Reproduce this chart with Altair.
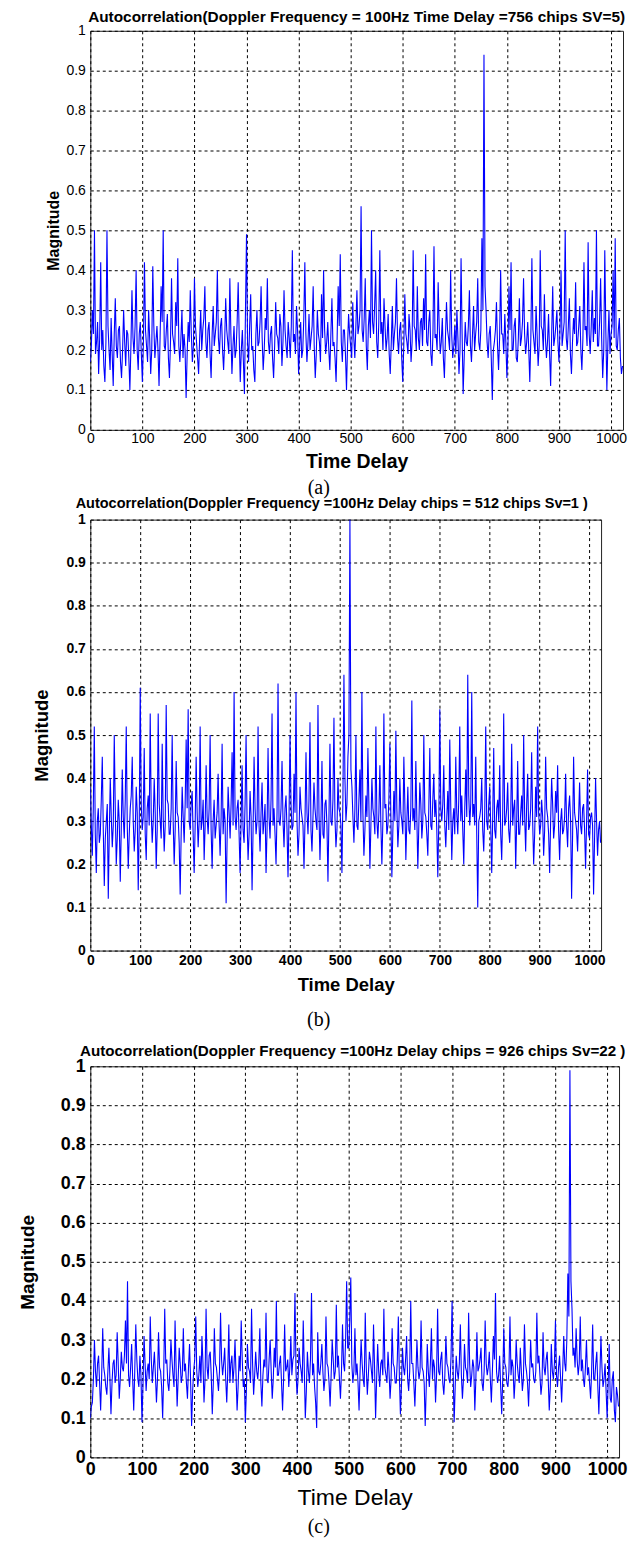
import altair as alt
import pandas as pd

TITLE_A = "Autocorrelation(Doppler Frequency = 100Hz Time Delay =756 chips SV=5)"
TITLE_B = "Autocorrelation(Doppler Frequency =100Hz Delay chips = 512 chips Sv=1 )"
TITLE_C = "Autocorrelation(Doppler Frequency =100Hz Delay chips = 926 chips Sv=22 )"
CAPTIONS = ["(a)", "(b)", "(c)"]
X_TITLE = "Time Delay"
Y_TITLE = "Magnitude"
X_TICKS = [0, 100, 200, 300, 400, 500, 600, 700, 800, 900, 1000]
Y_TICKS = [0, 0.1, 0.2, 0.3, 0.4, 0.5, 0.6, 0.7, 0.8, 0.9, 1]
STEP = 2  # chips between read-off samples

# Panel (a): SV=5, peak at 756 chips
mag_a = [
    0.17, 0.21, 0.30, 0.24, 0.50, 0.19, 0.22, 0.27, 0.14, 0.23, 0.42, 0.20, 0.25, 0.16, 0.12, 0.22,
    0.50, 0.26, 0.20, 0.15, 0.28, 0.19, 0.11, 0.24, 0.33, 0.21, 0.18, 0.25, 0.26, 0.17, 0.13, 0.20,
    0.30, 0.22, 0.16, 0.25, 0.24, 0.18, 0.10, 0.21, 0.35, 0.23, 0.19, 0.26, 0.40, 0.20, 0.15, 0.24,
    0.27, 0.19, 0.12, 0.22, 0.42, 0.25, 0.21, 0.17, 0.30, 0.23, 0.14, 0.20, 0.41, 0.26, 0.18, 0.22,
    0.26, 0.20, 0.11, 0.23, 0.36, 0.27, 0.50, 0.21, 0.20, 0.25, 0.29, 0.18, 0.13, 0.22, 0.38, 0.24,
    0.22, 0.19, 0.32, 0.26, 0.43, 0.21, 0.17, 0.23, 0.30, 0.18, 0.24, 0.20, 0.08, 0.19, 0.27, 0.22,
    0.35, 0.24, 0.17, 0.21, 0.38, 0.26, 0.22, 0.18, 0.14, 0.23, 0.30, 0.20, 0.25, 0.28, 0.36, 0.22,
    0.18, 0.25, 0.27, 0.19, 0.13, 0.24, 0.31, 0.21, 0.24, 0.27, 0.40, 0.23, 0.19, 0.26, 0.28, 0.20,
    0.15, 0.22, 0.33, 0.25, 0.22, 0.19, 0.38, 0.24, 0.14, 0.21, 0.26, 0.18, 0.20, 0.27, 0.37, 0.23,
    0.12, 0.20, 0.25, 0.17, 0.09, 0.30, 0.49, 0.22, 0.17, 0.26, 0.34, 0.20, 0.21, 0.15, 0.12, 0.24,
    0.30, 0.21, 0.22, 0.27, 0.36, 0.23, 0.15, 0.20, 0.28, 0.25, 0.38, 0.22, 0.19, 0.24, 0.26, 0.18,
    0.13, 0.21, 0.32, 0.24, 0.23, 0.19, 0.29, 0.26, 0.16, 0.22, 0.35, 0.25, 0.21, 0.18, 0.27, 0.23,
    0.18, 0.26, 0.45, 0.22, 0.24, 0.19, 0.31, 0.25, 0.14, 0.21, 0.27, 0.18, 0.20, 0.28, 0.42, 0.24,
    0.17, 0.22, 0.29, 0.20, 0.23, 0.26, 0.36, 0.21, 0.13, 0.19, 0.30, 0.24, 0.22, 0.17, 0.34, 0.23,
    0.40, 0.25, 0.19, 0.22, 0.27, 0.20, 0.15, 0.24, 0.33, 0.21, 0.22, 0.18, 0.12, 0.23, 0.36, 0.26,
    0.44, 0.22, 0.17, 0.25, 0.25, 0.19, 0.10, 0.21, 0.29, 0.24, 0.21, 0.18, 0.32, 0.23, 0.18, 0.26,
    0.35, 0.24, 0.26, 0.30, 0.56, 0.25, 0.22, 0.28, 0.38, 0.21, 0.15, 0.26, 0.30, 0.23, 0.50, 0.27,
    0.24, 0.31, 0.40, 0.22, 0.18, 0.27, 0.45, 0.24, 0.27, 0.20, 0.33, 0.26, 0.20, 0.23, 0.29, 0.19,
    0.14, 0.22, 0.31, 0.20, 0.24, 0.27, 0.38, 0.23, 0.19, 0.25, 0.27, 0.18, 0.12, 0.21, 0.34, 0.24,
    0.22, 0.19, 0.29, 0.25, 0.17, 0.22, 0.45, 0.26, 0.25, 0.20, 0.36, 0.23, 0.20, 0.27, 0.28, 0.21,
    0.33, 0.25, 0.44, 0.22, 0.21, 0.27, 0.30, 0.19, 0.16, 0.24, 0.46, 0.23, 0.24, 0.20, 0.37, 0.26,
    0.19, 0.22, 0.28, 0.18, 0.13, 0.23, 0.32, 0.25, 0.23, 0.20, 0.40, 0.24, 0.18, 0.21, 0.26, 0.19,
    0.30, 0.23, 0.14, 0.20, 0.43, 0.24, 0.09, 0.18, 0.27, 0.22, 0.21, 0.26, 0.35, 0.21, 0.17, 0.24,
    0.31, 0.20, 0.24, 0.27, 0.38, 0.22, 0.20, 0.25, 0.48, 0.30, 0.94, 0.36, 0.30, 0.22, 0.18, 0.24,
    0.26, 0.18, 0.075, 0.20, 0.22, 0.25, 0.32, 0.21, 0.15, 0.23, 0.40, 0.24, 0.24, 0.19, 0.29, 0.22,
    0.13, 0.21, 0.36, 0.25, 0.42, 0.20, 0.20, 0.26, 0.28, 0.18, 0.17, 0.23, 0.33, 0.21, 0.23, 0.27,
    0.38, 0.24, 0.19, 0.22, 0.27, 0.20, 0.12, 0.23, 0.43, 0.25, 0.22, 0.19, 0.31, 0.24, 0.16, 0.21,
    0.45, 0.26, 0.25, 0.20, 0.34, 0.23, 0.18, 0.22, 0.29, 0.19, 0.11, 0.24, 0.36, 0.21, 0.23, 0.26,
    0.30, 0.22, 0.17, 0.25, 0.40, 0.21, 0.24, 0.27, 0.50, 0.23, 0.20, 0.26, 0.33, 0.19, 0.14, 0.22,
    0.28, 0.24, 0.37, 0.21, 0.22, 0.26, 0.31, 0.20, 0.15, 0.23, 0.42, 0.25, 0.26, 0.21, 0.47, 0.24,
    0.19, 0.26, 0.35, 0.22, 0.28, 0.24, 0.50, 0.21, 0.21, 0.27, 0.38, 0.23, 0.13, 0.20, 0.45, 0.25,
    0.10, 0.22, 0.30, 0.19, 0.24, 0.26, 0.40, 0.23, 0.48, 0.21, 0.20, 0.25, 0.28, 0.18, 0.14, 0.16,
]

# Panel (b): Sv=1, peak near 512 chips
mag_b = [
    0.38, 0.29, 0.22, 0.33, 0.52, 0.27, 0.18, 0.30, 0.33, 0.25, 0.27, 0.35, 0.45, 0.28, 0.15, 0.26,
    0.30, 0.34, 0.12, 0.27, 0.40, 0.31, 0.24, 0.29, 0.50, 0.33, 0.20, 0.26, 0.35, 0.30, 0.16, 0.28,
    0.42, 0.31, 0.26, 0.35, 0.52, 0.29, 0.19, 0.27, 0.33, 0.36, 0.45, 0.30, 0.23, 0.28, 0.38, 0.32,
    0.14, 0.29, 0.61, 0.34, 0.28, 0.31, 0.47, 0.27, 0.21, 0.33, 0.36, 0.29, 0.55, 0.32, 0.25, 0.30,
    0.40, 0.32, 0.19, 0.28, 0.55, 0.34, 0.30, 0.26, 0.48, 0.31, 0.23, 0.29, 0.57, 0.35, 0.34, 0.27,
    0.27, 0.33, 0.50, 0.30, 0.20, 0.28, 0.44, 0.32, 0.31, 0.25, 0.13, 0.27, 0.38, 0.31, 0.25, 0.34,
    0.49, 0.33, 0.56, 0.30, 0.28, 0.34, 0.37, 0.27, 0.18, 0.29, 0.45, 0.32, 0.24, 0.30, 0.52, 0.28,
    0.30, 0.35, 0.21, 0.29, 0.43, 0.31, 0.27, 0.33, 0.50, 0.28, 0.19, 0.30, 0.35, 0.26, 0.29, 0.32,
    0.41, 0.29, 0.22, 0.31, 0.48, 0.27, 0.33, 0.30, 0.11, 0.26, 0.38, 0.32, 0.26, 0.34, 0.46, 0.29,
    0.60, 0.31, 0.28, 0.33, 0.35, 0.27, 0.18, 0.30, 0.43, 0.28, 0.25, 0.34, 0.50, 0.30, 0.21, 0.27,
    0.37, 0.31, 0.14, 0.28, 0.45, 0.33, 0.27, 0.30, 0.52, 0.29, 0.23, 0.32, 0.39, 0.27, 0.30, 0.34,
    0.18, 0.28, 0.47, 0.31, 0.26, 0.35, 0.55, 0.29, 0.33, 0.27, 0.20, 0.32, 0.62, 0.30, 0.29, 0.33,
    0.44, 0.30, 0.24, 0.33, 0.36, 0.28, 0.17, 0.31, 0.50, 0.34, 0.28, 0.29, 0.41, 0.32, 0.60, 0.30,
    0.22, 0.27, 0.38, 0.33, 0.31, 0.29, 0.19, 0.30, 0.46, 0.32, 0.27, 0.35, 0.53, 0.28, 0.23, 0.31,
    0.39, 0.33, 0.30, 0.28, 0.57, 0.32, 0.21, 0.30, 0.44, 0.27, 0.26, 0.34, 0.35, 0.29, 0.16, 0.31,
    0.48, 0.30, 0.29, 0.35, 0.54, 0.31, 0.24, 0.28, 0.40, 0.33, 0.32, 0.29, 0.18, 0.36, 0.64, 0.40,
    0.30, 0.34, 0.45, 0.50, 1.00, 0.42, 0.38, 0.31, 0.25, 0.33, 0.50, 0.29, 0.28, 0.35, 0.42, 0.30,
    0.60, 0.32, 0.22, 0.28, 0.36, 0.31, 0.47, 0.34, 0.19, 0.29, 0.40, 0.33, 0.31, 0.27, 0.52, 0.30,
    0.26, 0.32, 0.43, 0.29, 0.20, 0.30, 0.55, 0.33, 0.34, 0.27, 0.29, 0.35, 0.48, 0.31, 0.17, 0.28,
    0.37, 0.30, 0.51, 0.33, 0.24, 0.29, 0.40, 0.32, 0.30, 0.27, 0.45, 0.34, 0.21, 0.30, 0.38, 0.28,
    0.27, 0.33, 0.58, 0.30, 0.33, 0.28, 0.44, 0.31, 0.19, 0.29, 0.39, 0.34, 0.26, 0.30, 0.50, 0.32,
    0.31, 0.27, 0.22, 0.33, 0.47, 0.29, 0.28, 0.35, 0.41, 0.31, 0.35, 0.28, 0.17, 0.30, 0.56, 0.33,
    0.30, 0.34, 0.43, 0.29, 0.24, 0.31, 0.37, 0.28, 0.49, 0.33, 0.21, 0.30, 0.33, 0.27, 0.45, 0.32,
    0.27, 0.35, 0.52, 0.30, 0.36, 0.28, 0.20, 0.33, 0.42, 0.31, 0.64, 0.36, 0.29, 0.34, 0.60, 0.31,
    0.34, 0.29, 0.45, 0.27, 0.10, 0.30, 0.31, 0.33, 0.40, 0.28, 0.23, 0.32, 0.52, 0.30, 0.28, 0.34,
    0.38, 0.29, 0.18, 0.31, 0.47, 0.28, 0.26, 0.33, 0.35, 0.30, 0.43, 0.27, 0.21, 0.32, 0.55, 0.29,
    0.30, 0.33, 0.39, 0.28, 0.25, 0.31, 0.48, 0.29, 0.33, 0.35, 0.19, 0.30, 0.44, 0.27, 0.27, 0.32,
    0.36, 0.29, 0.50, 0.31, 0.23, 0.34, 0.41, 0.28, 0.29, 0.33, 0.46, 0.30, 0.20, 0.27, 0.38, 0.31,
    0.52, 0.32, 0.27, 0.29, 0.35, 0.31, 0.22, 0.28, 0.45, 0.33, 0.31, 0.27, 0.18, 0.30, 0.40, 0.34,
    0.26, 0.29, 0.37, 0.32, 0.43, 0.28, 0.21, 0.30, 0.33, 0.27, 0.28, 0.31, 0.41, 0.29, 0.24, 0.33,
    0.36, 0.30, 0.12, 0.27, 0.45, 0.32, 0.30, 0.28, 0.23, 0.31, 0.39, 0.29, 0.27, 0.33, 0.34, 0.28,
    0.19, 0.30, 0.42, 0.27, 0.26, 0.31, 0.32, 0.29, 0.13, 0.26, 0.40, 0.30, 0.22, 0.28, 0.30, 0.25,
]

# Panel (c): Sv=22, peak near 926 chips
mag_c = [
    0.10, 0.13, 0.14, 0.20, 0.30, 0.22, 0.18, 0.24, 0.26, 0.19, 0.12, 0.21, 0.33, 0.23, 0.21, 0.18,
    0.16, 0.22, 0.28, 0.20, 0.11, 0.19, 0.24, 0.25, 0.19, 0.21, 0.32, 0.24, 0.15, 0.20, 0.27, 0.23,
    0.22, 0.26, 0.35, 0.24, 0.45, 0.21, 0.18, 0.23, 0.29, 0.20, 0.12, 0.22, 0.34, 0.25, 0.20, 0.18,
    0.26, 0.21, 0.09, 0.19, 0.31, 0.24, 0.17, 0.22, 0.24, 0.20, 0.36, 0.25, 0.19, 0.23, 0.27, 0.21,
    0.14, 0.20, 0.32, 0.23, 0.22, 0.18, 0.10, 0.21, 0.38, 0.24, 0.25, 0.19, 0.17, 0.22, 0.30, 0.25,
    0.21, 0.18, 0.35, 0.23, 0.13, 0.20, 0.28, 0.24, 0.19, 0.21, 0.33, 0.22, 0.24, 0.19, 0.15, 0.23,
    0.29, 0.20, 0.08, 0.17, 0.22, 0.25, 0.36, 0.22, 0.18, 0.21, 0.26, 0.19, 0.31, 0.24, 0.14, 0.20,
    0.38, 0.23, 0.20, 0.26, 0.27, 0.21, 0.11, 0.19, 0.33, 0.24, 0.23, 0.20, 0.17, 0.22, 0.37, 0.25,
    0.21, 0.24, 0.28, 0.20, 0.14, 0.22, 0.34, 0.19, 0.24, 0.26, 0.19, 0.23, 0.30, 0.21, 0.12, 0.18,
    0.26, 0.22, 0.35, 0.25, 0.18, 0.20, 0.09, 0.17, 0.29, 0.23, 0.22, 0.19, 0.38, 0.24, 0.16, 0.21,
    0.27, 0.22, 0.20, 0.24, 0.33, 0.19, 0.13, 0.21, 0.25, 0.23, 0.37, 0.20, 0.19, 0.25, 0.30, 0.22,
    0.15, 0.20, 0.28, 0.23, 0.40, 0.21, 0.21, 0.24, 0.26, 0.19, 0.12, 0.20, 0.34, 0.22, 0.23, 0.25,
    0.18, 0.23, 0.31, 0.21, 0.25, 0.26, 0.42, 0.22, 0.16, 0.20, 0.28, 0.24, 0.22, 0.19, 0.35, 0.23,
    0.10, 0.17, 0.27, 0.22, 0.19, 0.25, 0.42, 0.21, 0.24, 0.18, 0.14, 0.075, 0.32, 0.22, 0.21, 0.24,
    0.29, 0.22, 0.17, 0.20, 0.36, 0.24, 0.23, 0.19, 0.13, 0.21, 0.30, 0.25, 0.20, 0.22, 0.39, 0.23,
    0.26, 0.20, 0.15, 0.22, 0.34, 0.24, 0.22, 0.30, 0.45, 0.28, 0.28, 0.35, 0.46, 0.24, 0.19, 0.22,
    0.33, 0.21, 0.24, 0.19, 0.12, 0.22, 0.30, 0.24, 0.20, 0.18, 0.37, 0.23, 0.16, 0.21, 0.27, 0.25,
    0.22, 0.19, 0.34, 0.23, 0.10, 0.20, 0.29, 0.22, 0.18, 0.24, 0.25, 0.21, 0.38, 0.23, 0.21, 0.19,
    0.27, 0.22, 0.15, 0.20, 0.33, 0.24, 0.23, 0.19, 0.19, 0.25, 0.36, 0.21, 0.11, 0.18, 0.28, 0.23,
    0.21, 0.25, 0.31, 0.20, 0.17, 0.22, 0.40, 0.24, 0.24, 0.19, 0.13, 0.21, 0.30, 0.23, 0.20, 0.22,
    0.35, 0.23, 0.22, 0.19, 0.08, 0.18, 0.29, 0.22, 0.18, 0.24, 0.33, 0.20, 0.25, 0.23, 0.14, 0.21,
    0.38, 0.22, 0.21, 0.25, 0.27, 0.19, 0.16, 0.21, 0.31, 0.24, 0.23, 0.20, 0.19, 0.26, 0.40, 0.22,
    0.09, 0.18, 0.26, 0.22, 0.20, 0.24, 0.34, 0.21, 0.15, 0.20, 0.29, 0.23, 0.22, 0.19, 0.37, 0.24,
    0.18, 0.21, 0.25, 0.23, 0.12, 0.20, 0.32, 0.22, 0.23, 0.25, 0.28, 0.19, 0.17, 0.22, 0.35, 0.24,
    0.21, 0.23, 0.27, 0.20, 0.14, 0.22, 0.31, 0.25, 0.42, 0.22, 0.19, 0.21, 0.26, 0.18, 0.11, 0.20,
    0.33, 0.24, 0.23, 0.19, 0.18, 0.22, 0.36, 0.21, 0.25, 0.23, 0.15, 0.20, 0.30, 0.24, 0.21, 0.19,
    0.28, 0.22, 0.17, 0.20, 0.34, 0.24, 0.22, 0.19, 0.13, 0.21, 0.30, 0.23, 0.24, 0.20, 0.19, 0.22,
    0.37, 0.24, 0.26, 0.21, 0.16, 0.19, 0.32, 0.23, 0.21, 0.25, 0.27, 0.20, 0.12, 0.18, 0.29, 0.22,
    0.20, 0.24, 0.35, 0.21, 0.18, 0.23, 0.26, 0.20, 0.14, 0.22, 0.31, 0.24, 0.22, 0.30, 0.47, 0.36,
    0.99, 0.45, 0.38, 0.26, 0.28, 0.23, 0.33, 0.25, 0.21, 0.24, 0.36, 0.22, 0.25, 0.20, 0.18, 0.23,
    0.30, 0.21, 0.23, 0.19, 0.15, 0.22, 0.34, 0.20, 0.20, 0.24, 0.27, 0.18, 0.11, 0.21, 0.31, 0.23,
    0.18, 0.20, 0.24, 0.17, 0.10, 0.19, 0.29, 0.15, 0.14, 0.20, 0.22, 0.12, 0.09, 0.18, 0.16, 0.13,
]

SANS = "'Liberation Sans', Arial, sans-serif"
SERIF = "'Liberation Serif', 'Times New Roman', serif"
PLOT_LEFT = 89  # page x of plot areas (shared by the stacked panels)


def panel(mag, title, caption, w, h, st):
    df = pd.DataFrame({"delay": [STEP * i for i in range(len(mag))], "mag": mag})
    grid = dict(grid=True, gridColor="#000000", gridDash=[3, 3], gridOpacity=1, gridWidth=1,
                ticks=False, domain=False, labelColor="#000", titleColor="#000",
                labelOverlap=False, labelFlush=False)
    xaxis = alt.Axis(values=X_TICKS, title=X_TITLE, format="d",
                     labelFont=SANS, labelFontSize=st["ls"], labelFontWeight=st["lw"],
                     labelPadding=st["xlp"], titleFont=SANS, titleFontSize=st["xts"],
                     titleFontWeight=st["xtw"], titlePadding=st["xtp"], **grid)
    yaxis = alt.Axis(values=Y_TICKS, title=Y_TITLE, format="~g",
                     labelFont=SANS, labelFontSize=st["ls"], labelFontWeight=st["lw"],
                     labelPadding=st["ylp"], titleFont=SANS, titleFontSize=st["yts"],
                     titleFontWeight="bold", titlePadding=st["ytp"], **grid)
    line = alt.Chart(df).mark_line(color="#0000ff", strokeWidth=1.1, clip=True).encode(
        x=alt.X("delay:Q", scale=alt.Scale(domain=[0, 1023], nice=False, zero=False), axis=xaxis),
        y=alt.Y("mag:Q", scale=alt.Scale(domain=[0, 1], nice=False), axis=yaxis),
    )
    cap = alt.Chart(pd.DataFrame({"t": [caption]})).mark_text(
        font=SERIF, fontSize=20, color="#000", baseline="middle", align="center"
    ).encode(text="t:N", x=alt.value(318 - PLOT_LEFT), y=alt.value(st["capy"]))
    layers = [line, cap]
    if st.get("gap"):
        # invisible spacer that reserves room below the caption
        layers.append(alt.Chart(pd.DataFrame({"t": ["."]})).mark_text(
            opacity=0, fontSize=1, baseline="top"
        ).encode(text="t:N", x=alt.value(0), y=alt.value(st["gap"])))
    return alt.layer(*layers).properties(
        width=w, height=h,
        title=alt.TitleParams(title, font=SANS, fontSize=st["ts"], fontWeight="bold",
                              color="#000", offset=st["to"], anchor="middle", dx=st["tdx"]),
    )


st_a = dict(ls=14, lw="normal", xlp=2, ylp=5, xts=19.5, xtw="bold", xtp=7,
            yts=16, ytp=4.5, ts=15.4, to=-2, tdx=0, capy=458)
st_b = dict(ls=14, lw="bold", xlp=3, ylp=5, xts=18.5, xtw="bold", xtp=8,
            yts=18.5, ytp=14, ts=14.5, to=1.5, tdx=-14, capy=502, gap=526)
st_c = dict(ls=18, lw="bold", xlp=3, ylp=5, xts=23, xtw="normal", xtp=8,
            yts=19, ytp=22.5, ts=15.2, to=-1.5, tdx=-2, capy=462)

pa = panel(mag_a, TITLE_A, CAPTIONS[0], 534, 400, st_a)
pb = panel(mag_b, TITLE_B, CAPTIONS[1], 512, 432, st_b)
pc = panel(mag_c, TITLE_C, CAPTIONS[2], 530, 392, st_c)

chart = alt.vconcat(pa, pb, pc, spacing=-4).configure_view(
    stroke="#222222", strokeWidth=1
).properties(padding={"left": 9.5, "top": 0, "right": 0, "bottom": 0})

chart.save("out.html", embed_options={"renderer": "svg", "actions": False})
